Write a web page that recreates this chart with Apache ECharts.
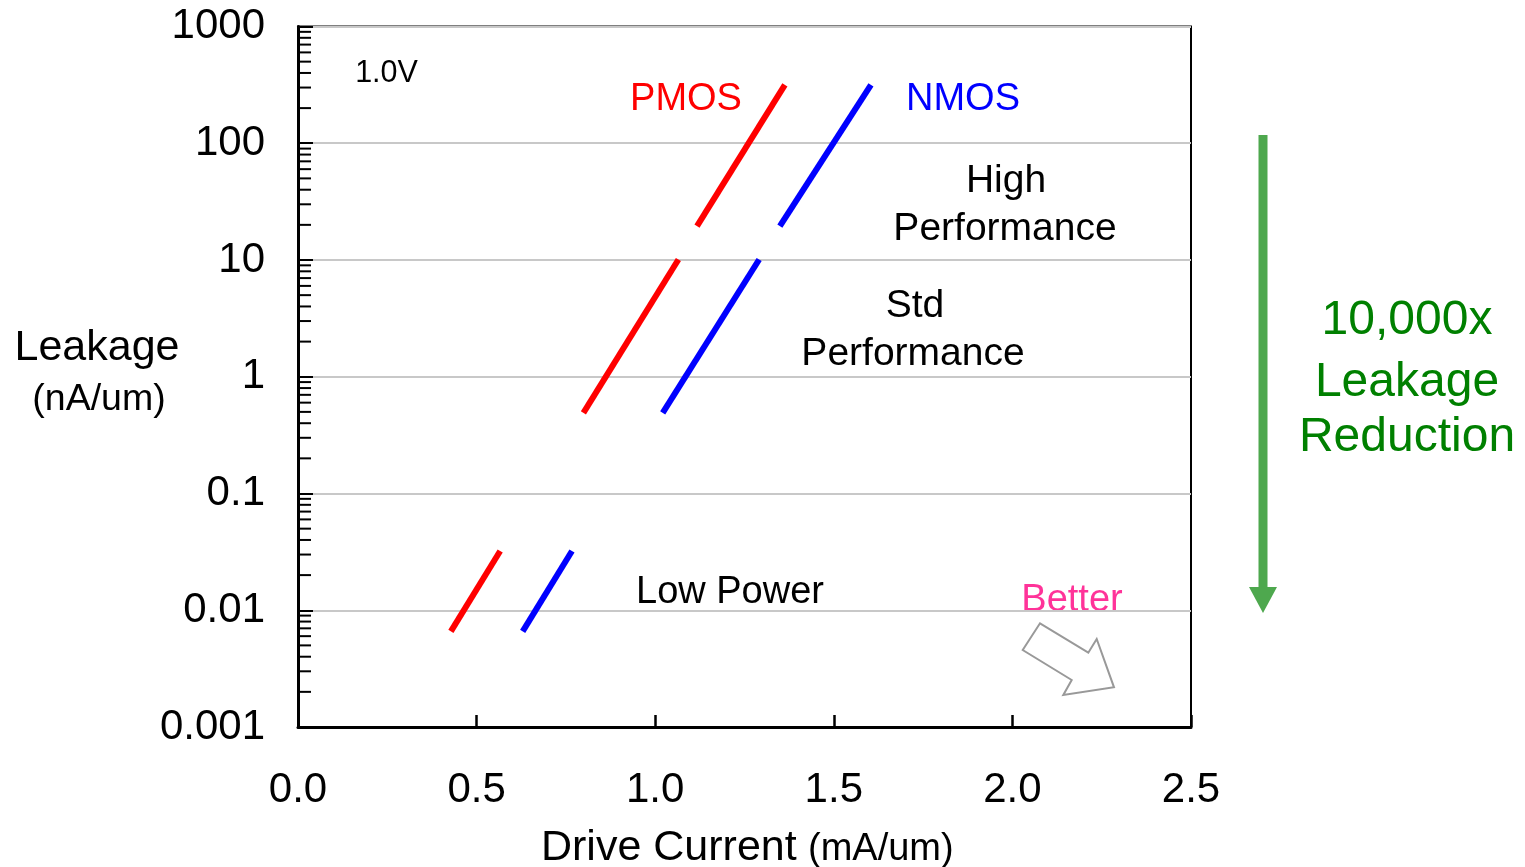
<!DOCTYPE html>
<html>
<head>
<meta charset="utf-8">
<script src="https://cdn.jsdelivr.net/npm/echarts@6/dist/echarts.min.js"></script>
<style>
html,body{margin:0;padding:0;background:#fff;}
#c{width:1525px;height:867px;}
</style>
</head>
<body>
<div id="c"></div>
<script>
// ---- data ----
const xTickLabels = ['0.0', '0.5', '1.0', '1.5', '2.0', '2.5'];
const yTickLabels = ['0.001', '0.01', '0.1', '1', '10', '100', '1000'];
const yDecades = [0.001, 0.01, 0.1, 1, 10, 100];
const minorMultipliers = [2, 3, 4, 5, 6, 7, 8, 9];

// [drive current (mA/um), leakage (nA/um)]
const pmosHP  = [[1.117, 19.5], [1.363, 316]];
const nmosHP  = [[1.349, 19.5], [1.604, 316]];
const pmosStd = [[0.799, 0.49], [1.065, 10.1]];
const nmosStd = [[1.021, 0.49], [1.291, 10.1]];
const pmosLP  = [[0.428, 0.0066], [0.566, 0.0322]];
const nmosLP  = [[0.629, 0.0066], [0.767, 0.0322]];

const minorTicks = [];
yDecades.forEach(d => minorMultipliers.forEach(m => minorTicks.push([0, d * m])));

const FONT = 'Liberation Sans, Arial, sans-serif';
const chart = echarts.init(document.getElementById('c'), null, {renderer: 'canvas'});

function seg(name, data, color) {
  return {
    name, type: 'line', data, symbol: 'none', silent: true,
    lineStyle: {color, width: 6, cap: 'butt'}, animation: false
  };
}

function txt(text, x, y, size, color, align) {
  return {
    type: 'text', x, y, silent: true,
    style: {text, font: size + 'px ' + FONT, fill: color || '#000', align: align || 'center', verticalAlign: 'middle'}
  };
}

const option = {
  animation: false,
  backgroundColor: '#fff',
  grid: {left: 298, right: 334, top: 26.5, bottom: 140, show: true, borderColor: '#000', borderWidth: 2, backgroundColor: 'transparent'},
  xAxis: {
    type: 'value', min: 0, max: 2.5, interval: 0.5,
    axisLine: {show: true, onZero: false, lineStyle: {color: '#000', width: 3}},
    axisTick: {show: true, inside: true, length: 12, lineStyle: {color: '#000', width: 2.5}},
    axisLabel: {
      margin: 42, fontSize: 42, fontFamily: FONT, color: '#000',
      formatter: v => xTickLabels[Math.round(v / 0.5)]
    },
    splitLine: {show: false}
  },
  yAxis: {
    type: 'log', logBase: 10, min: 0.001, max: 1000,
    axisLine: {show: true, onZero: false, lineStyle: {color: '#000', width: 3}},
    axisTick: {show: true, inside: true, length: 15, lineStyle: {color: '#000', width: 2}},
    axisLabel: {
      margin: 33, fontSize: 42, fontFamily: FONT, color: '#000', padding: [10, 0, 0, 0],
      formatter: v => yTickLabels[Math.round(Math.log10(v)) + 3]
    },
    splitLine: {show: true, lineStyle: {color: '#c8c8c8', width: 2}}
  },
  series: [
    {
      type: 'custom', silent: true, clip: false, animation: false,
      data: minorTicks,
      renderItem: (params, api) => {
        const p = api.coord([api.value(0), api.value(1)]);
        return {type: 'line', shape: {x1: p[0], y1: p[1], x2: p[0] + 13, y2: p[1]}, style: {stroke: '#000', lineWidth: 2}};
      }
    },
    seg('PMOS HP', pmosHP, '#ff0000'),
    seg('NMOS HP', nmosHP, '#0000ff'),
    seg('PMOS Std', pmosStd, '#ff0000'),
    seg('NMOS Std', nmosStd, '#0000ff'),
    seg('PMOS LP', pmosLP, '#ff0000'),
    seg('NMOS LP', nmosLP, '#0000ff')
  ],
  graphic: [
    txt('1.0V', 386.5, 74, 30.5),
    txt('PMOS', 686, 99.5, 38, '#ff0000'),
    txt('NMOS', 963, 99.5, 38, '#0000ff'),
    txt('High', 1006, 181, 39),
    txt('Performance', 1005, 229.5, 39),
    txt('Std', 915, 306, 39),
    txt('Performance', 913, 354.5, 39),
    txt('Low Power', 730, 592.5, 38),
    txt('Better', 1072, 601, 38, '#ff3399'),
    {
      type: 'polygon', silent: true,
      shape: {points: [[1022.7, 650], [1040, 623.3], [1088.3, 652.7], [1096.7, 639], [1114, 687.3], [1063.3, 695], [1071.7, 680]]},
      style: {fill: 'none', stroke: '#999999', lineWidth: 2}
    },
    // green arrow
    {type: 'line', silent: true, shape: {x1: 1263, y1: 135, x2: 1263, y2: 592}, style: {stroke: '#4ea84e', lineWidth: 9}},
    {type: 'polygon', silent: true, shape: {points: [[1249, 587], [1277, 587], [1263, 613]]}, style: {fill: '#4ea84e'}},
    txt('10,000x', 1407, 321, 48, '#008000'),
    txt('Leakage', 1407, 382.5, 48, '#008000'),
    txt('Reduction', 1407, 437.5, 48, '#008000'),
    // axis names
    txt('Leakage', 97, 348, 43),
    txt('(nA/um)', 99, 400, 37.5),
    txt('Drive Current', 541, 848, 43, '#000', 'left'),
    txt('(mA/um)', 808, 850, 38, '#000', 'left')
  ]
};
chart.setOption(option);
</script>
</body>
</html>
